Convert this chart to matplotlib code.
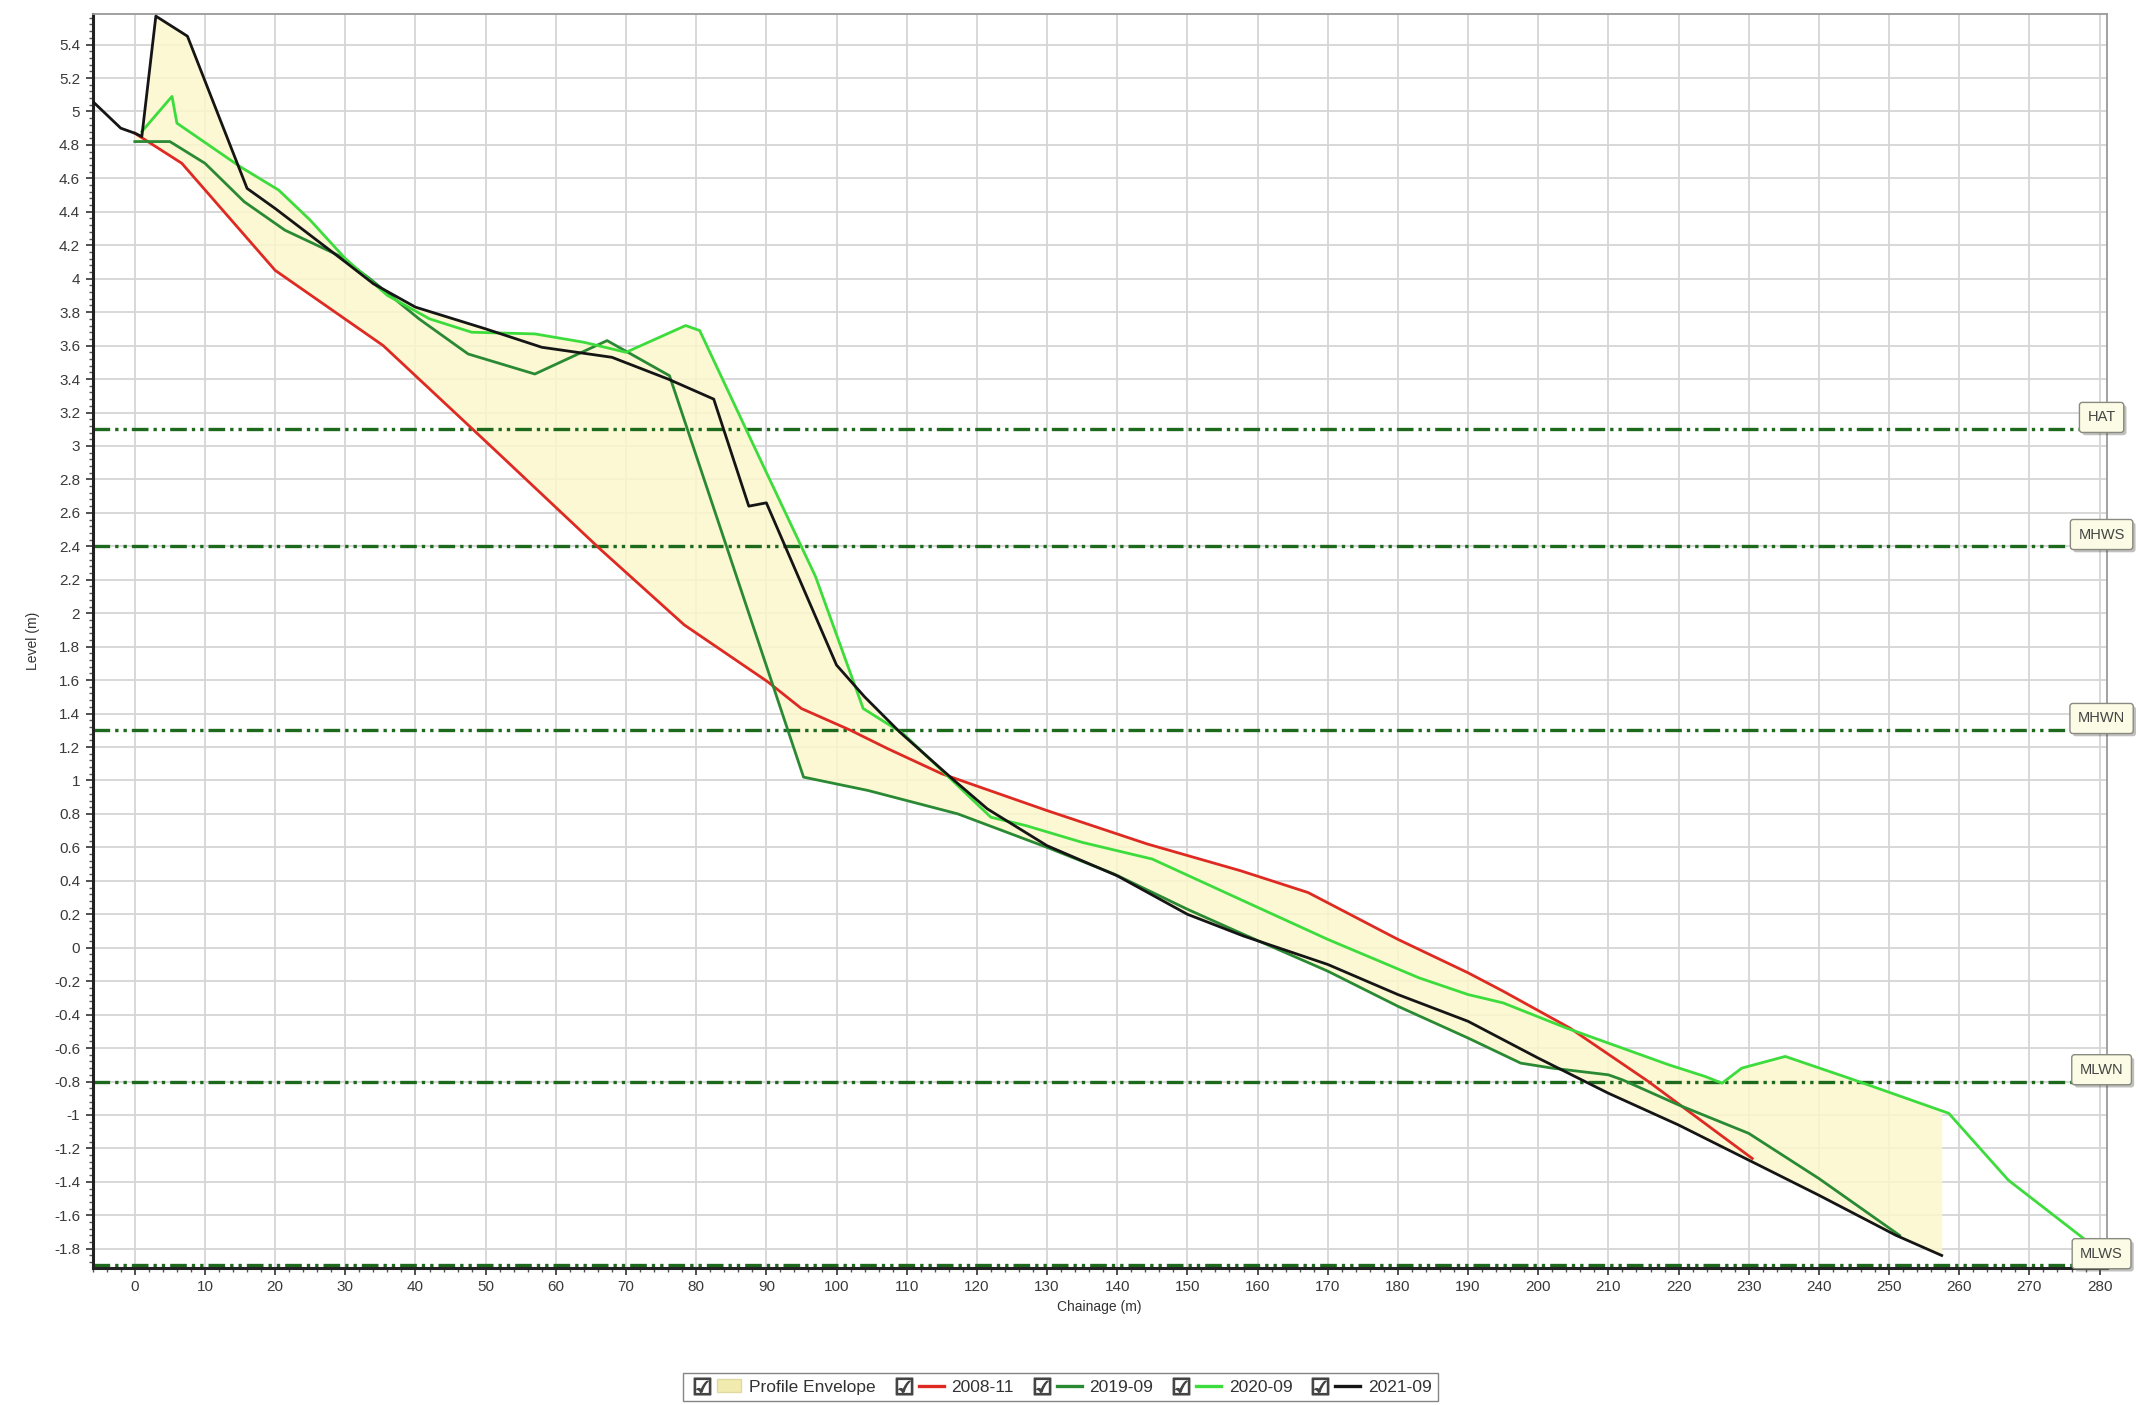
import numpy as np
import matplotlib
matplotlib.use('Agg')
import matplotlib.pyplot as plt
import matplotlib.patheffects as pe
from matplotlib.lines import Line2D
from matplotlib.patches import Patch
from matplotlib.legend_handler import HandlerTuple
from matplotlib.ticker import MultipleLocator, FuncFormatter

plt.rcParams['font.family'] = ['Liberation Sans Narrow', 'Liberation Sans', 'DejaVu Sans']

# beach profile surveys: chainage (m) and level (m)
x_2008 = [0, 6.7, 20, 35.4, 50.7, 66.4, 78.3, 90.2, 95, 102, 107.3, 115, 130, 144.3,
          157.6, 167.2, 180, 190, 195, 204.5, 215.7, 230.5]
y_2008 = [4.87, 4.69, 4.05, 3.60, 3.00, 2.38, 1.93, 1.59, 1.43, 1.30, 1.19, 1.04, 0.82, 0.62,
          0.46, 0.33, 0.05, -0.15, -0.26, -0.48, -0.80, -1.26]

x_2019 = [0, 5, 10, 15.6, 21.4, 29, 33.5, 40.5, 47.5, 57, 67.3, 76.2, 95.3, 104.5, 117.3,
          130, 139.6, 150, 158, 170, 180, 190, 197.5, 202, 210, 212, 220, 230, 240, 251.5]
y_2019 = [4.82, 4.82, 4.69, 4.46, 4.29, 4.14, 4.00, 3.76, 3.55, 3.43, 3.63, 3.42, 1.02, 0.94, 0.80,
          0.60, 0.44, 0.23, 0.08, -0.14, -0.35, -0.54, -0.69, -0.72, -0.76, -0.79, -0.94, -1.11, -1.38, -1.72]

x_2020 = [1, 5.3, 6, 15, 20.5, 25, 30, 36, 42, 48, 57, 64, 70, 78.5, 80.5, 88, 97, 103.8,
          109.5, 122, 127, 135, 145, 158, 170, 183, 190, 195, 204, 218.6, 223.8, 226.2, 229,
          235.2, 244.3, 258.5, 267, 279]
y_2020 = [4.88, 5.09, 4.93, 4.67, 4.53, 4.35, 4.12, 3.90, 3.76, 3.68, 3.67, 3.62, 3.56, 3.72, 3.69,
          3.02, 2.22, 1.43, 1.28, 0.78, 0.73, 0.63, 0.53, 0.28, 0.05, -0.18, -0.28, -0.33, -0.48,
          -0.70, -0.77, -0.81, -0.72, -0.65, -0.78, -0.99, -1.39, -1.78]

x_2021 = [-6, -4, -2, 0, 1, 3, 7.5, 16, 20, 30, 34, 40, 50, 58, 68, 76, 82.5, 87.5, 90, 100,
          104, 109, 116.5, 121.5, 130, 140, 150, 158, 170, 180, 190, 200, 210, 220, 230, 240,
          251, 257.5]
y_2021 = [5.06, 4.98, 4.90, 4.87, 4.85, 5.57, 5.45, 4.54, 4.42, 4.10, 3.97, 3.83, 3.70, 3.59, 3.53,
          3.40, 3.28, 2.64, 2.66, 1.69, 1.50, 1.29, 1.01, 0.83, 0.61, 0.43, 0.20, 0.07, -0.10, -0.28,
          -0.44, -0.66, -0.87, -1.06, -1.27, -1.48, -1.72, -1.84]

survey_names = ['2008-11', '2019-09', '2020-09', '2021-09']
survey_colors = ['#de2a22', '#2a8a34', '#3ddc3d', '#151515']

tide_names = ['HAT', 'MHWS', 'MHWN', 'MLWN', 'MLWS']
tide_levels = [3.1, 2.4, 1.3, -0.8, -1.9]

surveys = [(x_2008, y_2008), (x_2019, y_2019), (x_2020, y_2020), (x_2021, y_2021)]

fig = plt.figure(figsize=(21.38, 14.05), dpi=100)
ax = fig.add_axes([0.04336, 0.09751, 0.94196, 0.8928])

# profile envelope over the extent of the latest survey
xe = np.linspace(x_2021[0], x_2021[-1], 3000)
xe = np.union1d(xe, [v for xs, _ in surveys for v in xs if x_2021[0] <= v <= x_2021[-1]])
stack = []
for xs, ys in surveys:
    yi = np.interp(xe, xs, ys)
    yi[(xe < xs[0]) | (xe > xs[-1])] = np.nan
    stack.append(yi)
stack = np.array(stack)
env_top = np.nanmax(stack, axis=0)
env_bot = np.nanmin(stack, axis=0)
ax.fill_between(xe, env_bot, env_top, color='#fbf7cc', alpha=0.85, lw=0, zorder=1)

# tidal levels
for name, lev in zip(tide_names, tide_levels):
    ax.axhline(lev, color='#1d6a1d', lw=2.4, ls=(0, (5, 1.5, 1, 1.5, 1, 1.5)), zorder=2)
    ann = ax.annotate(name, xy=(0.9975, lev), xycoords=('axes fraction', 'data'),
                      xytext=(0, 8.5), textcoords='offset points', ha='center', va='center',
                      fontsize=10.5, color='#444',
                      bbox=dict(boxstyle='round,pad=0.55,rounding_size=0.2', fc='#fcfce6',
                                ec='#8a8a80', lw=1),
                      annotation_clip=False, zorder=6)
    ann.get_bbox_patch().set_path_effects([pe.withSimplePatchShadow(offset=(2, -2), alpha=0.35)])

for (xs, ys), name, col in zip(surveys, survey_names, survey_colors):
    ax.plot(xs, ys, color=col, lw=2.0, zorder=3)

ax.set_xlim(-6, 281)
ax.set_ylim(-1.915, 5.585)
ax.xaxis.set_major_locator(MultipleLocator(10))
ax.xaxis.set_minor_locator(MultipleLocator(2))
ax.yaxis.set_major_locator(MultipleLocator(0.2))
ax.yaxis.set_minor_locator(MultipleLocator(0.04))
ax.yaxis.set_major_formatter(FuncFormatter(lambda v, p: f'{round(v, 2) + 0.0:g}'))
ax.xaxis.set_major_formatter(FuncFormatter(lambda v, p: f'{round(v) + 0:g}'))

ax.grid(which='major', color='#d6d6d6', lw=1.3)
ax.set_axisbelow(True)

for s in ['left', 'bottom']:
    ax.spines[s].set_color('#222')
    ax.spines[s].set_linewidth(2.2)
for s in ['top', 'right']:
    ax.spines[s].set_color('#9a9a9a')
    ax.spines[s].set_linewidth(1.3)

ax.tick_params(which='major', direction='out', length=5, width=1.2, color='#333',
               labelsize=11, labelcolor='#3a3a3a', pad=4)
ax.tick_params(which='minor', direction='out', length=3, width=1, color='#555')

ax.set_xlabel('Chainage (m)', fontsize=10, color='#333', labelpad=4)
ax.set_ylabel('Level (m)', fontsize=10, color='#333', labelpad=10)

# legend with check boxes
def chk():
    return Line2D([], [], ls='none', marker='$\u2611$', ms=12, color='#444')

handles = [(chk(), Patch(fc='#f1ebb0', ec='#e0daa0'))]
labels = ['Profile Envelope']
for name, col in zip(survey_names, survey_colors):
    handles.append((chk(), Line2D([], [], color=col, lw=2.4)))
    labels.append(name)

fig.legend(handles, labels, loc='center', bbox_to_anchor=(0.496, 0.0128), ncol=5,
           handler_map={tuple: HandlerTuple(ndivide=None, pad=0.15)},
           frameon=True, fancybox=False, edgecolor='#666', fontsize=12.5,
           handlelength=3.0, handletextpad=0.45, columnspacing=0.9, borderpad=0.35,
           labelcolor='#333')

fig.savefig('out.png', dpi=100)
